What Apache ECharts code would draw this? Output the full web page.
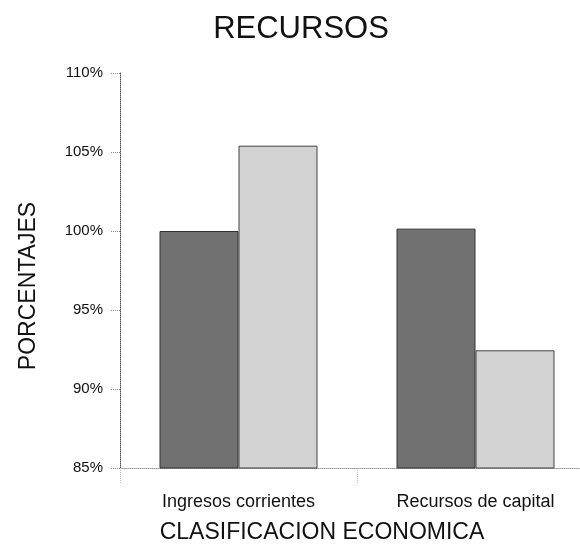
<!DOCTYPE html>
<html><head><meta charset="utf-8">
<script src="https://cdn.jsdelivr.net/npm/echarts@6/dist/echarts.min.js"></script>
<style>html,body{margin:0;padding:0;background:#fff}#c{width:580px;height:548px}</style>
</head><body><div id="c"></div>
<script>
var categories = ['Ingresos corrientes', 'Recursos de capital'];
var serieA = [100.0, 100.15];
var serieB = [105.4, 92.45];
var yTicks = [85, 90, 95, 100, 105, 110];

var chart = echarts.init(document.getElementById('c'));
var font = 'Liberation Sans, Arial, sans-serif';
chart.setOption({
  animation: false,
  title: { text: 'RECURSOS', left: 296, top: 9, textAlign: 'center',
    textStyle: { fontFamily: font, fontSize: 31, fontWeight: 'normal', color: '#111' } },
  grid: { left: 120, width: 474, top: 73, height: 395, containLabel: false, outerBoundsMode: 'none' },
  xAxis: {
    type: 'category', data: categories,
    name: 'CLASIFICACION ECONOMICA', nameLocation: 'middle', nameGap: 53,
    nameTextStyle: { fontFamily: font, fontSize: 23, color: '#111', padding: [0, 0, 0, -70] },
    axisLine: { lineStyle: { color: '#999', type: 'dotted', width: 1 } },
    axisTick: { show: true, length: 15, inside: false, lineStyle: { color: '#bbb', type: 'dotted' } },
    axisLabel: { fontFamily: font, fontSize: 18, color: '#111', margin: 25 }
  },
  yAxis: {
    type: 'value', min: yTicks[0], max: yTicks[yTicks.length - 1], interval: 5,
    name: 'PORCENTAJES', nameLocation: 'middle', nameGap: 80, nameRotate: 90,
    nameTextStyle: { fontFamily: font, fontSize: 23, color: '#111', padding: [0, 0, 0, -31] },
    axisLine: { show: true, lineStyle: { color: '#555', type: 'dotted', width: 1 } },
    axisTick: { show: true, length: 9, lineStyle: { color: '#888', type: 'dotted' } },
    splitLine: { show: false },
    axisLabel: { fontFamily: font, fontSize: 15, color: '#111', margin: 17, formatter: '{value}%' }
  },
  series: [
    { type: 'bar', data: serieA, barWidth: 79, barGap: '0%',
      itemStyle: { color: '#717171', borderColor: '#333', borderWidth: 1 } },
    { type: 'bar', data: serieB, barWidth: 79, barGap: '0%',
      itemStyle: { color: '#d2d2d2', borderColor: '#444', borderWidth: 1 } }
  ]
});
</script></body></html>
